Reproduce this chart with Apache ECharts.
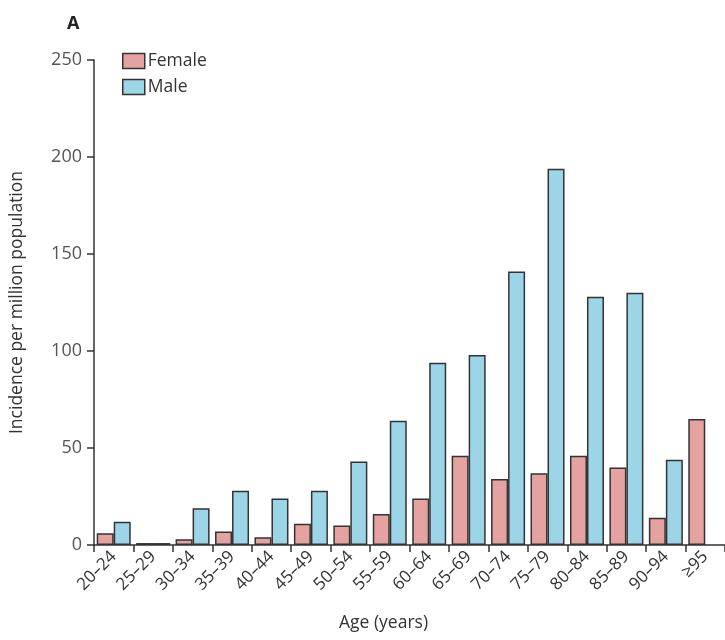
<!DOCTYPE html>
<html>
<head>
<meta charset="utf-8">
<script src="https://cdn.jsdelivr.net/npm/echarts@6/dist/echarts.min.js"></script>
<style>html,body{margin:0;padding:0;background:#fff}#c{width:725px;height:640px}</style>
</head>
<body>
<div id="c"></div>
<script>
const categories = ['20–24','25–29','30–34','35–39','40–44','45–49','50–54','55–59','60–64','65–69','70–74','75–79','80–84','85–89','90–94','≥95'];
const female = [6, 1, 3, 7, 4, 11, 10, 16, 24, 46, 34, 37, 46, 40, 14, 65];
const male = [12, 1, 19, 28, 24, 28, 43, 64, 94, 98, 141, 194, 128, 130, 44, null];
const yTicks = [0, 50, 100, 150, 200, 250];

const chart = echarts.init(document.getElementById('c'), null, {renderer: 'canvas'});
const font = '"Open Sans", "Noto Sans", sans-serif';
chart.setOption({
  animation: false,
  textStyle: {fontFamily: font},
  graphic: [
    {type: 'text', left: 67, top: 15, style: {text: 'A', font: 'bold 18px ' + font, fill: '#222'}},
    {type: 'text', left: 339, top: 614, style: {text: 'Age (years)', font: '17.5px ' + font, fill: '#333'}}
  ],
  legend: {
    orient: 'vertical', left: 117, top: 47, itemGap: 8,
    itemWidth: 22, itemHeight: 15, icon: 'rect',
    itemStyle: {borderColor: '#333', borderWidth: 1.5},
    textStyle: {fontSize: 17.5, color: '#333', fontFamily: font, padding: [0, 0, 0, -2]},
    data: ['Female', 'Male']
  },
  grid: {left: 92, right: -7, top: 60, bottom: 95, containLabel: false},
  xAxis: {
    type: 'category', data: categories,
    axisLine: {lineStyle: {color: '#333', width: 1.5}},
    axisTick: {show: true, length: 7, lineStyle: {color: '#333', width: 1.5}, alignWithLabel: false},
    axisLabel: {rotate: 45, fontSize: 17, color: '#333', margin: 9, interval: 0, fontFamily: font}
  },
  yAxis: {
    type: 'value', min: 0, max: 250, interval: 50,
    name: 'Incidence per million population', nameLocation: 'middle', nameGap: 68,
    nameTextStyle: {fontSize: 17.5, color: '#333', fontFamily: font},
    axisLine: {show: true, lineStyle: {color: '#333', width: 1.5}},
    axisTick: {show: true, length: 7, lineStyle: {color: '#333', width: 1.5}},
    axisLabel: {fontSize: 18, color: '#555', margin: 12, fontFamily: font,
      formatter: v => yTicks.includes(v) ? String(v) : ''},
    splitLine: {show: false}
  },
  series: [
    {name: 'Female', type: 'bar', data: female, barWidth: 17, barGap: '0%',
      itemStyle: {color: '#E4A3A0', borderColor: '#333', borderWidth: 1.5}},
    {name: 'Male', type: 'bar', data: male, barWidth: 17, barGap: '0%',
      itemStyle: {color: '#9DD5E8', borderColor: '#333', borderWidth: 1.5}}
  ]
});
</script>
</body>
</html>
